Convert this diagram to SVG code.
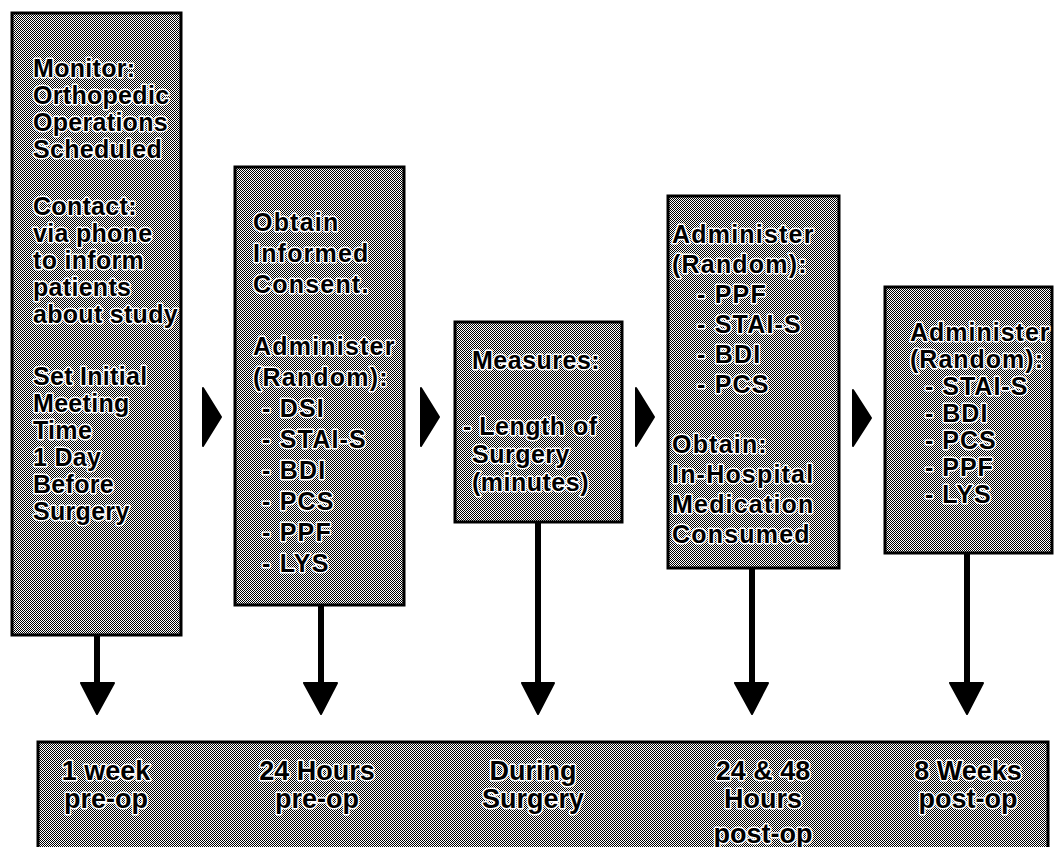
<svg xmlns="http://www.w3.org/2000/svg" width="1056" height="847" viewBox="0 0 1056 847">
<defs>
<pattern id="ht" width="2" height="2" patternUnits="userSpaceOnUse">
<rect width="2" height="2" fill="#fff"/>
<rect width="1" height="1" fill="#000"/>
<rect x="1" y="1" width="1" height="1" fill="#000"/>
</pattern>
<style>
.box{fill:url(#ht);stroke:#000;stroke-width:3}
.t{font-family:"Liberation Sans",Arial,sans-serif;font-weight:bold;font-size:25px;fill:#000;stroke:#fff;stroke-width:3px;paint-order:stroke;stroke-linejoin:round}
.b{font-size:27px;text-anchor:middle}
.shaft{stroke:#000;stroke-width:6;fill:none}
.head{fill:#000;stroke:#000;stroke-width:2;stroke-linejoin:round}
</style>
</defs>
<rect width="1056" height="847" fill="#fff"/>

<g id="connectors">
<path class="shaft" d="M97 635V684M321 605V684M538 522V684M752 568V684M967 553V684"/>
<path class="head" d="M81 683H114L97 714Z"/>
<path class="head" d="M304 683H337L321 714Z"/>
<path class="head" d="M522 683H554L538 714Z"/>
<path class="head" d="M735 683H768L752 714Z"/>
<path class="head" d="M950 683H983L967 714Z"/>
<path class="head" d="M203 388L221 417L203 446Z"/>
<path class="head" d="M421 388L439 417L421 446Z"/>
<path class="head" d="M636 388L654 417L636 446Z"/>
<path class="head" d="M853 390L871 418L853 446Z"/>
</g>

<g id="n1">
<rect class="box" x="12" y="13" width="169" height="622"/>
<text class="t" x="33" y="77" font-size="24" letter-spacing="0.3">
<tspan x="33">Monitor:</tspan>
<tspan x="33" dy="27">Orthopedic</tspan>
<tspan x="33" dy="27">Operations</tspan>
<tspan x="33" dy="27">Scheduled</tspan>
<tspan x="33" dy="57">Contact:</tspan>
<tspan x="33" dy="27">via phone</tspan>
<tspan x="33" dy="27">to inform</tspan>
<tspan x="33" dy="27">patients</tspan>
<tspan x="33" dy="27">about study</tspan>
<tspan x="33" dy="62">Set Initial</tspan>
<tspan x="33" dy="27">Meeting</tspan>
<tspan x="33" dy="27">Time</tspan>
<tspan x="33" dy="27">1 Day</tspan>
<tspan x="33" dy="27">Before</tspan>
<tspan x="33" dy="27">Surgery</tspan>
</text>
</g>

<g id="n2">
<rect class="box" x="235" y="167" width="169" height="438"/>
<text class="t" x="253" y="231" font-size="26" letter-spacing="1.2">
<tspan x="253">Obtain</tspan>
<tspan x="253" dy="31">Informed</tspan>
<tspan x="253" dy="31">Consent.</tspan>
<tspan x="253" dy="62">Administer</tspan>
<tspan x="253" dy="31">(Random):</tspan>
<tspan x="262" dy="31">- DSI</tspan>
<tspan x="262" dy="31">- STAI-S</tspan>
<tspan x="262" dy="31">- BDI</tspan>
<tspan x="262" dy="31">- PCS</tspan>
<tspan x="262" dy="31">- PPF</tspan>
<tspan x="262" dy="31">- LYS</tspan>
</text>
</g>

<g id="n3">
<rect class="box" x="455" y="322" width="167" height="200"/>
<text class="t" x="472" y="369" letter-spacing="0.5">
<tspan x="472">Measures:</tspan>
<tspan x="463" dy="66">- Length of</tspan>
<tspan x="472" dy="28">Surgery</tspan>
<tspan x="472" dy="28">(minutes)</tspan>
</text>
</g>

<g id="n4">
<rect class="box" x="668" y="196" width="171" height="372"/>
<text class="t" x="672" y="243" font-size="27" letter-spacing="1.2">
<tspan x="672">Administer</tspan>
<tspan x="672" dy="30">(Random):</tspan>
<tspan x="697" dy="30">- PPF</tspan>
<tspan x="697" dy="30">- STAI-S</tspan>
<tspan x="697" dy="30">- BDI</tspan>
<tspan x="697" dy="30">- PCS</tspan>
<tspan x="672" dy="60">Obtain:</tspan>
<tspan x="672" dy="30">In-Hospital</tspan>
<tspan x="672" dy="30">Medication</tspan>
<tspan x="672" dy="30">Consumed</tspan>
</text>
</g>

<g id="n5">
<rect class="box" x="885" y="287" width="167" height="266"/>
<text class="t" x="910" y="341" font-size="26" letter-spacing="1">
<tspan x="910">Administer</tspan>
<tspan x="910" dy="27">(Random):</tspan>
<tspan x="925" dy="27">- STAI-S</tspan>
<tspan x="925" dy="27">- BDI</tspan>
<tspan x="925" dy="27">- PCS</tspan>
<tspan x="925" dy="27">- PPF</tspan>
<tspan x="925" dy="27">- LYS</tspan>
</text>
</g>

<g id="timeline">
<rect class="box" x="38" y="742" width="1010" height="120"/>
<text class="t b" x="106" y="780"><tspan x="106">1 week</tspan><tspan x="106" dy="28">pre-op</tspan></text>
<text class="t b" x="317" y="780"><tspan x="317">24 Hours</tspan><tspan x="317" dy="28">pre-op</tspan></text>
<text class="t b" x="533" y="780"><tspan x="533">During</tspan><tspan x="533" dy="28">Surgery</tspan></text>
<text class="t b" x="763" y="780"><tspan x="763">24 &amp; 48</tspan><tspan x="763" dy="28">Hours</tspan><tspan x="763" dy="35">post-op</tspan></text>
<text class="t b" x="968" y="780"><tspan x="968">8 Weeks</tspan><tspan x="968" dy="28">post-op</tspan></text>
</g>
</svg>
